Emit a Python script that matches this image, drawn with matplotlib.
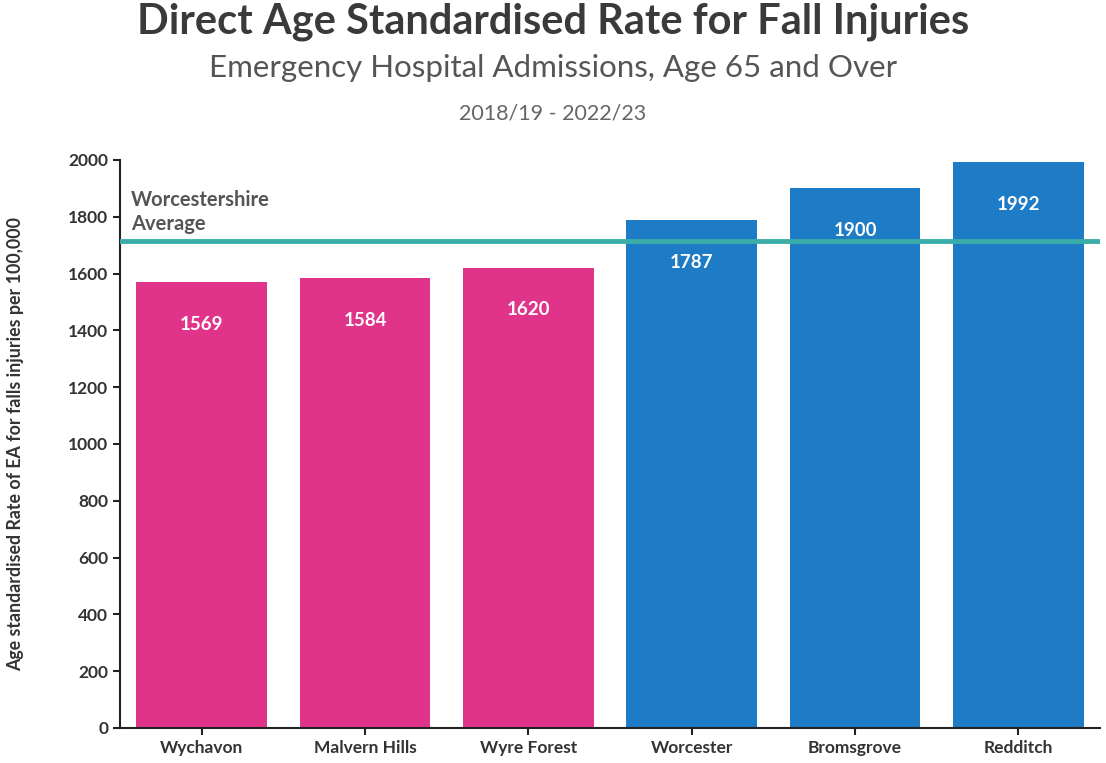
import matplotlib
matplotlib.use("Agg")
import matplotlib.pyplot as plt

categories = ["Wychavon", "Malvern Hills", "Wyre Forest", "Worcester", "Bromsgrove", "Redditch"]
values = [1569, 1584, 1620, 1787, 1900, 1992]
below_avg = [True, True, True, False, False, False]
average = 1716
yticks = list(range(0, 2001, 200))

plt.rcParams['font.family'] = ['Lato', 'DejaVu Sans']

PINK = "#E0338A"
BLUE = "#1E7BC6"
TEAL = "#3AADA8"

fig = plt.figure(figsize=(11.06, 7.63), dpi=100)
ax = fig.add_axes([120/1106, 1-728/763, 980/1106, 568/763])

colors = [PINK if b else BLUE for b in below_avg]
x = list(range(len(categories)))
ax.bar(x, values, width=0.8, color=colors, zorder=2)
for xi, v in zip(x, values):
    ax.annotate(f"{v}", (xi, v), xytext=(0, -42), textcoords="offset pixels",
                ha="center", va="center", color="white", fontsize=13.5, fontweight="bold", zorder=4)

ax.axhline(average, color=TEAL, lw=3.5, zorder=3)
ax.text(0.011, 1817, "Worcestershire\nAverage", transform=ax.get_yaxis_transform(),
        ha="left", va="center", fontsize=14.5, fontweight="bold", color="#555555", linespacing=1.25)

ax.set_xlim(-0.5, 5.5)
ax.set_ylim(0, 2000)
ax.set_yticks(yticks)
ax.set_xticks(x)
ax.set_xticklabels(categories)
for s in ["top", "right"]:
    ax.spines[s].set_visible(False)
for s in ["left", "bottom"]:
    ax.spines[s].set_color("#222222")
    ax.spines[s].set_linewidth(1.5)
ax.tick_params(axis="both", length=5, width=1.5, color="#222222", labelsize=12.5, labelcolor="#333333")
for lab in ax.get_xticklabels() + ax.get_yticklabels():
    lab.set_fontweight("bold")
ax.set_ylabel("Age standardised Rate of EA for falls injuries per 100,000", fontsize=12.8,
              fontweight="bold", color="#333333")
ax.yaxis.set_label_coords(-96/980, 0.5)

fig.text(0.5, 1-22/763, "Direct Age Standardised Rate for Fall Injuries", ha="center", va="center",
         fontsize=30, fontweight="bold", color="#3a3a3a")
fig.text(0.5, 1-68/763, "Emergency Hospital Admissions, Age 65 and Over", ha="center", va="center",
         fontsize=22.5, color="#555555")
fig.text(0.5, 1-113/763, "2018/19 - 2022/23", ha="center", va="center",
         fontsize=15.5, color="#666666")

fig.savefig("out.png", dpi=100)
